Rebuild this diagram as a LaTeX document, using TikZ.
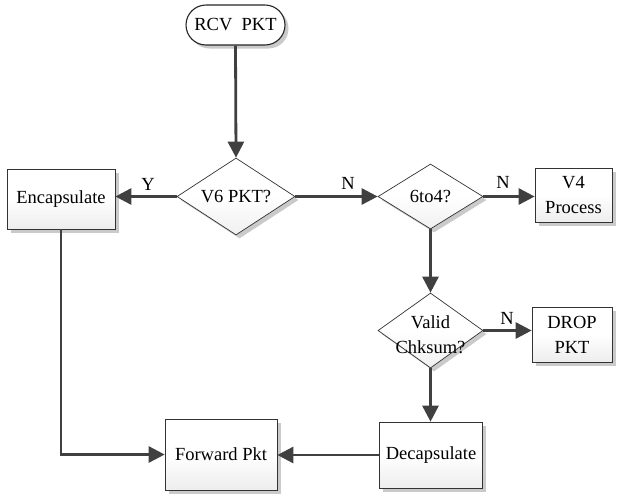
\documentclass[tikz,border=0pt]{standalone}
\usepackage{fontspec}
\setmainfont{Liberation Serif}
\usetikzlibrary{shapes.geometric,shadows,arrows.meta}
\definecolor{linegray}{HTML}{404040}
\tikzset{
  shadowed/.style={drop shadow={shadow xshift=3.5pt,shadow yshift=-3.5pt,fill=black!35,opacity=.6}},
  procbox/.style={shape=rectangle,draw=black!80,line width=0.7pt,top color=white,bottom color=gray!14,middle color=white,shadowed,inner sep=0pt,align=center},
  decbox/.style={shape=diamond,draw=black!80,line width=0.7pt,top color=white,bottom color=gray!12,middle color=white,shadowed,inner sep=0pt},
  termbox/.style={shape=rectangle,rounded corners=20pt,draw=black!85,line width=1.1pt,fill=white,shadowed,inner sep=0pt},
  lbl/.style={inner sep=0pt,align=center},
  flow/.style={draw=linegray,line width=2.8pt,-{Triangle[length=16pt,width=16pt]}}
}
\begin{document}
\begin{tikzpicture}[x=1pt,y=-1pt,font=\fontsize{18.5}{25}\selectfont]
\useasboundingbox (0,0) rectangle (618,496);
% shapes
\node[termbox,minimum width=99pt,minimum height=40pt] (rcv) at (235.5,25) {};
\node[lbl] (rcvt) at (235.5,25) {RCV\ \ PKT};
\node[decbox,minimum width=118pt,minimum height=77pt] (v6) at (236,196.5) {};
\node[lbl] (v6t) at (236,196.5) {V6 PKT?};
\node[procbox,minimum width=108pt,minimum height=60pt] (enc) at (61,199) {Encapsulate};
\node[decbox,minimum width=105pt,minimum height=65pt] (six) at (430.5,196.5) {};
\node[lbl] (sixt) at (430.5,196.5) {6to4?};
\node[procbox,minimum width=77pt,minimum height=54pt] (v4) at (573.5,195) {V4\\Process};
\node[decbox,minimum width=105pt,minimum height=75pt] (chk) at (430.5,330.5) {};
\node[lbl] (chkt) at (430.5,335) {Valid\\Chksum?};
\node[procbox,minimum width=80pt,minimum height=55pt] (drop) at (572,334.5) {DROP\\PKT};
\node[procbox,minimum width=103pt,minimum height=66pt] (dec) at (431,455) {Decapsulate};
\node[procbox,minimum width=112pt,minimum height=71pt] (fwd) at (221,454.5) {Forward Pkt};
% connectors
\draw[flow] (rcv.south) -- (v6.north);
\draw[flow] (v6.west) -- (enc.east |- v6.west);
\draw[flow] (v6.east) -- (six.west);
\draw[flow] (six.east) -- (v4.west |- six.east);
\draw[flow] (six.south) -- (chk.north);
\draw[flow] (chk.east) -- (drop.west |- chk.east);
\draw[flow] (chk.south) -- (dec.north -| chk.south);
\draw[flow] (dec.west) -- (fwd.east |- dec.west);
\draw[flow] (enc.south) |- (fwd.west);
% labels
\node[lbl] (ly) at (148,184) {Y};
\node[lbl] (ln1) at (348,183) {N};
\node[lbl] (ln2) at (503,182) {N};
\node[lbl] (ln3) at (507,318) {N};
\end{tikzpicture}
\end{document}
